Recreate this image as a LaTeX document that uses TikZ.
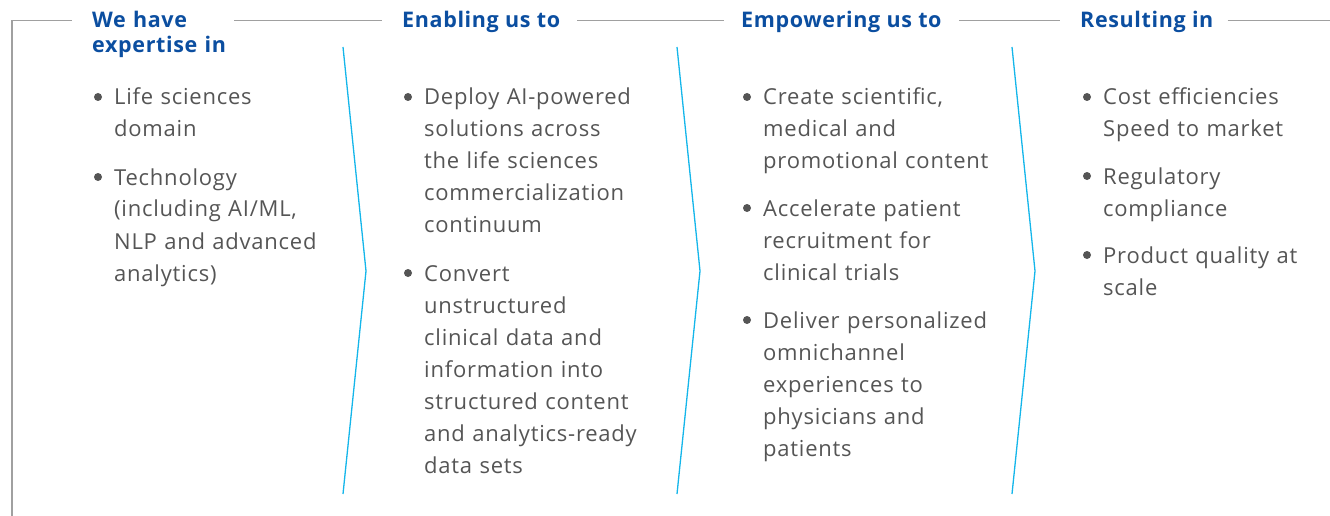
\documentclass[tikz,border=0pt]{standalone}
\usepackage{fontspec}
\setmainfont{Open Sans}
\newfontfamily\bodyfont[LetterSpace=3.5]{Open Sans}
\newfontfamily\headfont[LetterSpace=3]{Open Sans}
\usetikzlibrary{positioning}

\definecolor{headblue}{HTML}{0B4EA0}
\definecolor{bodygray}{HTML}{555555}
\definecolor{rulegray}{HTML}{A0A0A0}
\definecolor{chevcyan}{HTML}{14B6EA}

\begin{document}
\begin{tikzpicture}[x=1pt,y=-1pt,
  heading/.style={font=\headfont\fontsize{21.5}{24.5}\selectfont\bfseries,text=headblue,inner sep=0pt,anchor=base west},
  item/.style={font=\bodyfont\fontsize{22}{32}\selectfont,text=bodygray,inner sep=0pt,anchor=base west,text width=230pt,align=left},
  bulletdot/.style={circle,fill=bodygray,inner sep=0pt,minimum size=8pt},
  frame/.style={draw=rulegray,line width=1.1pt},
  chevron/.style={draw=chevcyan,line width=1.3pt}]
\useasboundingbox (0,0) rectangle (1330,516);

% column headings
\node[heading,text width=142pt,align=left] (h1) at (92,28) {We have\\expertise in};
\node[heading] (h2) at (402,28) {Enabling us to};
\node[heading] (h3) at (741,28) {Empowering us to};
\node[heading] (h4) at (1080,28) {Resulting in};

% frame: left edge and top rule between the headings
\coordinate (corner) at (12,20.5);
\coordinate (cornerlow) at (12,516);
\coordinate (rightend) at (1330,20.5);
\draw[frame] (cornerlow) -- (corner) -- ([xshift=-20pt]h1.west |- corner);
\draw[frame] (h1.east |- corner) -- ([xshift=-20pt]h2.west |- corner);
\draw[frame] ([xshift=17pt]h2.east |- corner) -- ([xshift=-17pt]h3.west |- corner);
\draw[frame] ([xshift=17pt]h3.east |- corner) -- ([xshift=-20pt]h4.west |- corner);
\draw[frame] ([xshift=14pt]h4.east |- corner) -- (rightend);

% chevrons between the columns
\foreach \x [count=\i] in {343,677,1012} {
  \coordinate (chev\i top) at (\x,47);
  \coordinate (chev\i tip) at (\x+23,271);
  \coordinate (chev\i bot) at (\x,494);
  \draw[chevron] (chev\i top) -- (chev\i tip) -- (chev\i bot);
}

% column 1
\node[item] (c1a) at (114,105) {Life sciences\\domain};
\node[item] (c1b) at (114,185) {Technology\\(including AI/ML,\\NLP and advanced\\analytics)};

% column 2
\node[item] (c2a) at (424,105) {Deploy AI-powered\\solutions across\\the life sciences\\commercialization\\continuum};
\node[item] (c2b) at (424,281) {Convert\\unstructured\\clinical data and\\information into\\structured content\\and analytics-ready\\data sets};

% column 3
\node[item] (c3a) at (763,105) {Create scientific,\\medical and\\promotional content};
\node[item] (c3b) at (763,216) {Accelerate patient\\recruitment for\\clinical trials};
\node[item] (c3c) at (763,328) {Deliver personalized\\omnichannel\\experiences to\\physicians and\\patients};

% column 4
\node[item] (c4a) at (1103,105) {Cost efficiencies\\Speed to market};
\node[item] (c4b) at (1103,184) {Regulatory\\compliance};
\node[item] (c4c) at (1103,263) {Product quality at\\scale};

% bullets
\foreach \n in {c1a,c1b,c2a,c2b,c3a,c3b,c3c,c4a,c4b,c4c}
  \node[bulletdot] (\n-dot) at ([xshift=-16pt,yshift=8pt]\n.base west) {};
\end{tikzpicture}
\end{document}
